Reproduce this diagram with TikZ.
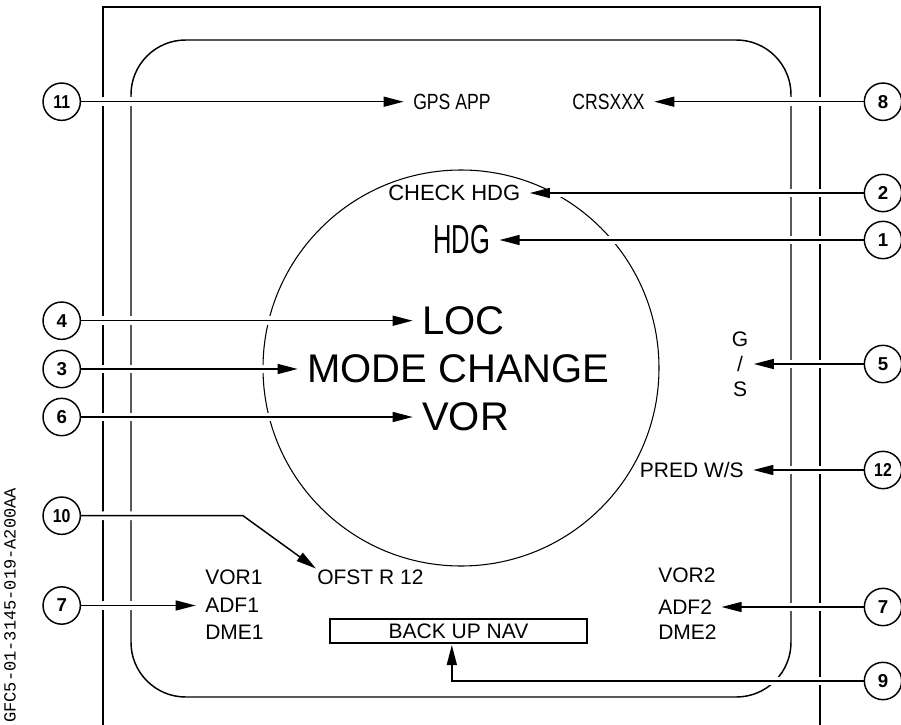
\documentclass[tikz,border=0pt]{standalone}
\usepackage{fontspec}
\setmainfont{Liberation Sans}
\newfontfamily\idmono{Liberation Mono}
\usetikzlibrary{arrows.meta}
\tikzset{
  num/.style={circle, draw, line width=1.1pt, minimum size=28pt, inner sep=0pt,
    font=\bfseries\fontsize{14}{14}\selectfont},
  lbl/.style={inner sep=0pt, font=\fontsize{15.75}{18.75}\selectfont},
  bigl/.style={inner sep=0pt, font=\fontsize{30}{30}\selectfont},
  lead/.style={line width=1.1pt, -{Triangle[length=15pt,width=7.5pt]}, shorten >=7pt,
    preaction={draw=white, line width=6.5pt, -, shorten >=9pt, shorten <=2pt}},
  frame/.style={line width=1.2pt},
}
\begin{document}
\begin{tikzpicture}[x=0.75pt, y=-0.75pt]
\useasboundingbox (0,0) rectangle (901,725);
% frames
\draw[frame] (102.7,725) -- (102.7,7) -- (820,7) -- (820,725);
\draw[line width=1.1pt, rounded corners=41pt] (131,40) rectangle (791,697);
\draw[line width=0.8pt] (461,368) circle [radius=198];
% id text
\node[rotate=90, anchor=west, inner sep=0pt, font=\idmono\fontsize{12.75}{12.75}\selectfont] (id) at (10,723) {GFC5-01-3145-019-A200AA};
% number circles
\node[num] (c11) at (61.7,101.7) {\scalebox{0.85}[1]{11}};
\node[num] (c4) at (61.7,320.7) {4};
\node[num] (c3) at (61.7,369) {3};
\node[num] (c6) at (61.7,417) {6};
\node[num] (c10) at (61.7,515.7) {\scalebox{0.85}[1]{10}};
\node[num] (c7a) at (61.7,605.5) {7};
\node[num] (c8) at (883,101.7) {8};
\node[num] (c2) at (883,193) {2};
\node[num] (c1) at (883,240) {1};
\node[num] (c5) at (883,364) {5};
\node[num] (c12) at (883,470) {\scalebox{0.85}[1]{12}};
\node[num] (c7b) at (883,607) {7};
\node[num] (c9) at (883,681) {9};
% texts
\node[lbl, anchor=west, font=\fontsize{16.5}{16.5}\selectfont] (gps) at (413,101.7) {\scalebox{0.8}[1]{GPS APP}};
\node[lbl, anchor=east, font=\fontsize{16.5}{16.5}\selectfont] (crs) at (645,101.7) {\scalebox{0.8}[1]{CRSXXX}};
\node[lbl, anchor=west, font=\fontsize{16.5}{16.5}\selectfont] (chk) at (388,193) {CHECK HDG};
\node[inner sep=0pt, anchor=west, font=\fontsize{30.4}{30.4}\selectfont] (hdg) at (433,240) {\scalebox{0.63}[1]{HDG}};
\node[bigl, anchor=west] (loc) at (422,320.7) {LOC};
\node[bigl, anchor=west] (mode) at (307,369) {MODE CHANGE};
\node[bigl, anchor=west] (vor) at (422,417) {VOR};
\node[lbl, align=center] (gs) at (740,364) {G\\/\\S};
\node[lbl, anchor=east] (pred) at (744,470) {PRED W/S};
\node[lbl, anchor=west] (ofst) at (317,577) {OFST R 12};
\node[lbl, anchor=west] (vor1) at (205,577) {VOR1};
\node[lbl, anchor=west] (adf1) at (205,605.5) {ADF1};
\node[lbl, anchor=west] (dme1) at (205,632) {DME1};
\node[lbl, anchor=west] (vor2) at (658,575) {VOR2};
\node[lbl, anchor=west] (adf2) at (658,607) {ADF2};
\node[lbl, anchor=west] (dme2) at (658,632) {DME2};
\node[lbl, draw, line width=1pt, minimum width=192.75pt, minimum height=18pt] (box) at (458.5,631) {BACK UP NAV};
\coordinate (k10) at (243,515.7);
% leaders
\draw[lead] (c11) -- (gps.west);
\draw[lead] (c8) -- (crs.east);
\draw[lead] (c2) -- (chk.east);
\draw[lead] (c1) -- (hdg.east);
\draw[lead] (c4) -- (loc.west);
\draw[lead] (c3) -- (mode.west);
\draw[lead] (c6) -- (vor.west);
\draw[lead, shorten >=4pt] (c5) -- (gs.east);
\draw[lead] (c12) -- (pred.east);
\draw[lead, shorten >=1pt] (c10) -- (k10) -- (ofst.north west);
\draw[lead] (c7a) -- (adf1.west);
\draw[lead] (c7b) -- (adf2.east);
\draw[lead, shorten >=1pt] (c9) -| ([xshift=-5pt]box.south);
\end{tikzpicture}
\end{document}
